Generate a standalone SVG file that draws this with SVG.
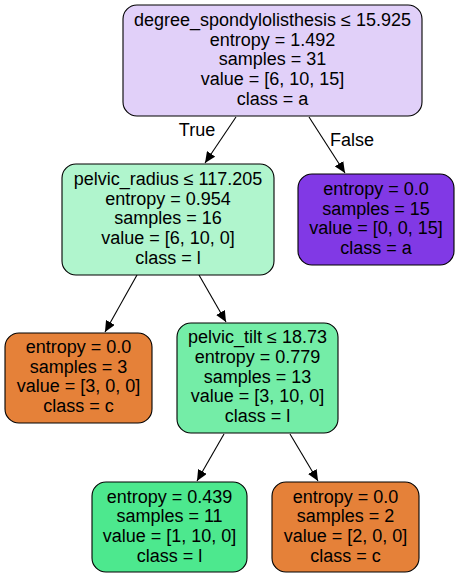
<svg xmlns="http://www.w3.org/2000/svg" width="459" height="577" viewBox="0 0 459 577">
<style>
.n rect{stroke:#000;stroke-width:1.1}
text{font-family:"Liberation Sans",Arial,Helvetica,sans-serif;font-size:18px;fill:#000;text-anchor:middle}
.e line{stroke:#000;stroke-width:1.1}
</style>
<defs>
<marker id="ah" markerUnits="userSpaceOnUse" markerWidth="12" markerHeight="10" refX="11" refY="5" orient="auto">
<path d="M0,0 L11,5 L0,10 z" fill="#000"/>
</marker>
</defs>
<rect width="459" height="577" fill="#fff"/>
<g class="e">
<line x1="236" y1="117" x2="205" y2="163" marker-end="url(#ah)"/>
<line x1="309" y1="117" x2="345" y2="173" marker-end="url(#ah)"/>
<line x1="137" y1="275" x2="105" y2="332" marker-end="url(#ah)"/>
<line x1="199" y1="275" x2="226" y2="322" marker-end="url(#ah)"/>
<line x1="224" y1="434" x2="197" y2="481" marker-end="url(#ah)"/>
<line x1="290" y1="434" x2="318" y2="481" marker-end="url(#ah)"/>
<text x="197" y="136">True</text>
<text x="352" y="146">False</text>
</g>
<g id="node0" class="n">
<rect x="123" y="5" width="299" height="111" rx="14" fill="#e1d0f9"/>
<text x="272.5" y="26">degree_spondylolisthesis ≤ 15.925</text>
<text x="272.5" y="45.7">entropy = 1.492</text>
<text x="272.5" y="65.4">samples = 31</text>
<text x="272.5" y="85.1">value = [6, 10, 15]</text>
<text x="272.5" y="104.8">class = a</text>
</g>
<g id="node1" class="n">
<rect x="62" y="164" width="212" height="111" rx="14" fill="#b0f5cd"/>
<text x="168" y="185">pelvic_radius ≤ 117.205</text>
<text x="168" y="204.7">entropy = 0.954</text>
<text x="168" y="224.4">samples = 16</text>
<text x="168" y="244.1">value = [6, 10, 0]</text>
<text x="168" y="263.8">class = l</text>
</g>
<g id="node2" class="n">
<rect x="298" y="174" width="156" height="91" rx="14" fill="#8139e5"/>
<text x="376" y="195">entropy = 0.0</text>
<text x="376" y="214.5">samples = 15</text>
<text x="376" y="234">value = [0, 0, 15]</text>
<text x="376" y="253.5">class = a</text>
</g>
<g id="node3" class="n">
<rect x="5" y="333" width="147" height="90" rx="14" fill="#e58139"/>
<text x="78.5" y="353.3">entropy = 0.0</text>
<text x="78.5" y="372.8">samples = 3</text>
<text x="78.5" y="392.3">value = [3, 0, 0]</text>
<text x="78.5" y="411.8">class = c</text>
</g>
<g id="node4" class="n">
<rect x="177" y="323" width="161" height="110" rx="14" fill="#74eda7"/>
<text x="257.5" y="343.3">pelvic_tilt ≤ 18.73</text>
<text x="257.5" y="363">entropy = 0.779</text>
<text x="257.5" y="382.7">samples = 13</text>
<text x="257.5" y="402.4">value = [3, 10, 0]</text>
<text x="257.5" y="422.1">class = l</text>
</g>
<g id="node5" class="n">
<rect x="92" y="482" width="155" height="90" rx="14" fill="#4de88e"/>
<text x="169.5" y="502.7">entropy = 0.439</text>
<text x="169.5" y="522.3">samples = 11</text>
<text x="169.5" y="541.9">value = [1, 10, 0]</text>
<text x="169.5" y="561.5">class = l</text>
</g>
<g id="node6" class="n">
<rect x="272" y="482" width="147" height="90" rx="14" fill="#e58139"/>
<text x="345.5" y="502.7">entropy = 0.0</text>
<text x="345.5" y="522.3">samples = 2</text>
<text x="345.5" y="541.9">value = [2, 0, 0]</text>
<text x="345.5" y="561.5">class = c</text>
</g>
</svg>
